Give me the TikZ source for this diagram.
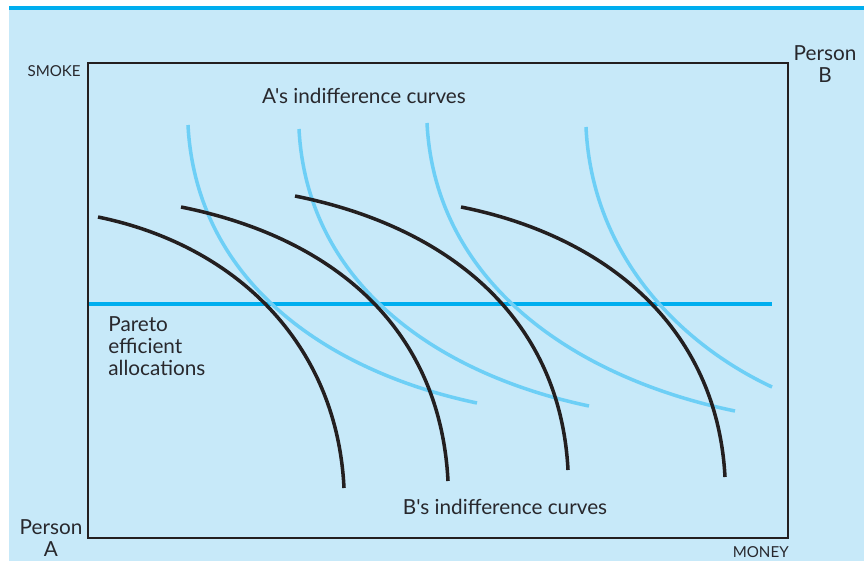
\documentclass[tikz,border=0pt]{standalone}
\usepackage{fontspec}
\setmainfont{Lato}[Ligatures=TeXOff]
\usepackage{xcolor}

\begin{document}
\begin{tikzpicture}[x=0.02cm, y=-0.02cm,
    bcurve/.style={colorblack, line width=2pt},
    acurve/.style={colorlight, line width=2pt},
    lab/.style={text=colortext, inner sep=0pt, font=\fontsize{11.8}{12.6}\selectfont},
    axlab/.style={text=colortext, inner sep=0pt, font=\fontsize{8.6}{10}\selectfont}]
  \definecolor{colorback}{RGB}{199,233,249}
  \definecolor{colorcyan}{RGB}{0,174,239}
  \definecolor{colorlight}{RGB}{109,207,246}
  \definecolor{colorblack}{RGB}{35,31,32}
  \definecolor{colortext}{RGB}{40,40,45}

  \useasboundingbox (0,0) rectangle (864,561);
  \fill[colorback] (9,10) rectangle (864,561);
  \draw[colorcyan, line width=2.4pt] (9,8) -- (864,8);

  % edgeworth box
  \draw[colorblack, line width=1.4pt] (88,63) rectangle (788,538);
  \node[axlab, anchor=east] (smoke) at (81,71) {SMOKE};
  \node[axlab, anchor=east] (money) at (789,552) {MONEY};
  \node[lab, align=center] (personA) at (51,538) {Person\\A};
  \node[lab, align=center] (personB) at (825,64) {Person\\B};

  % pareto set
  \draw[colorcyan, line width=2.2pt] (89,304) -- (772,304);
  \node[lab, align=left, anchor=north west] (pareto) at (108,316) {Pareto\\efficient\\allocations};

  % A's curves
  \draw[acurve] (188,125) .. controls (196,280) and (325,371) .. (477,403);
  \draw[acurve] (299,129) .. controls (307,284) and (437,374) .. (589,406);
  \draw[acurve] (427,123) .. controls (435,283) and (575,378) .. (735,411);
  \draw[acurve] (586,127) .. controls (592,257) and (682,345) .. (772,387);
  \node[lab] (alabel) at (364,96) {A's indifference curves};

  % B's curves
  \draw[bcurve] (98,217) .. controls (235,245) and (337,343) .. (344,488);
  \draw[bcurve] (181,207) .. controls (331,237) and (440,326) .. (448,481);
  \draw[bcurve] (295,196) .. controls (445,226) and (560,315) .. (568,470);
  \draw[bcurve] (461,207) .. controls (606,236) and (717,327) .. (725,477);
  \node[lab] (blabel) at (505,507) {B's indifference curves};

\end{tikzpicture}
\end{document}
